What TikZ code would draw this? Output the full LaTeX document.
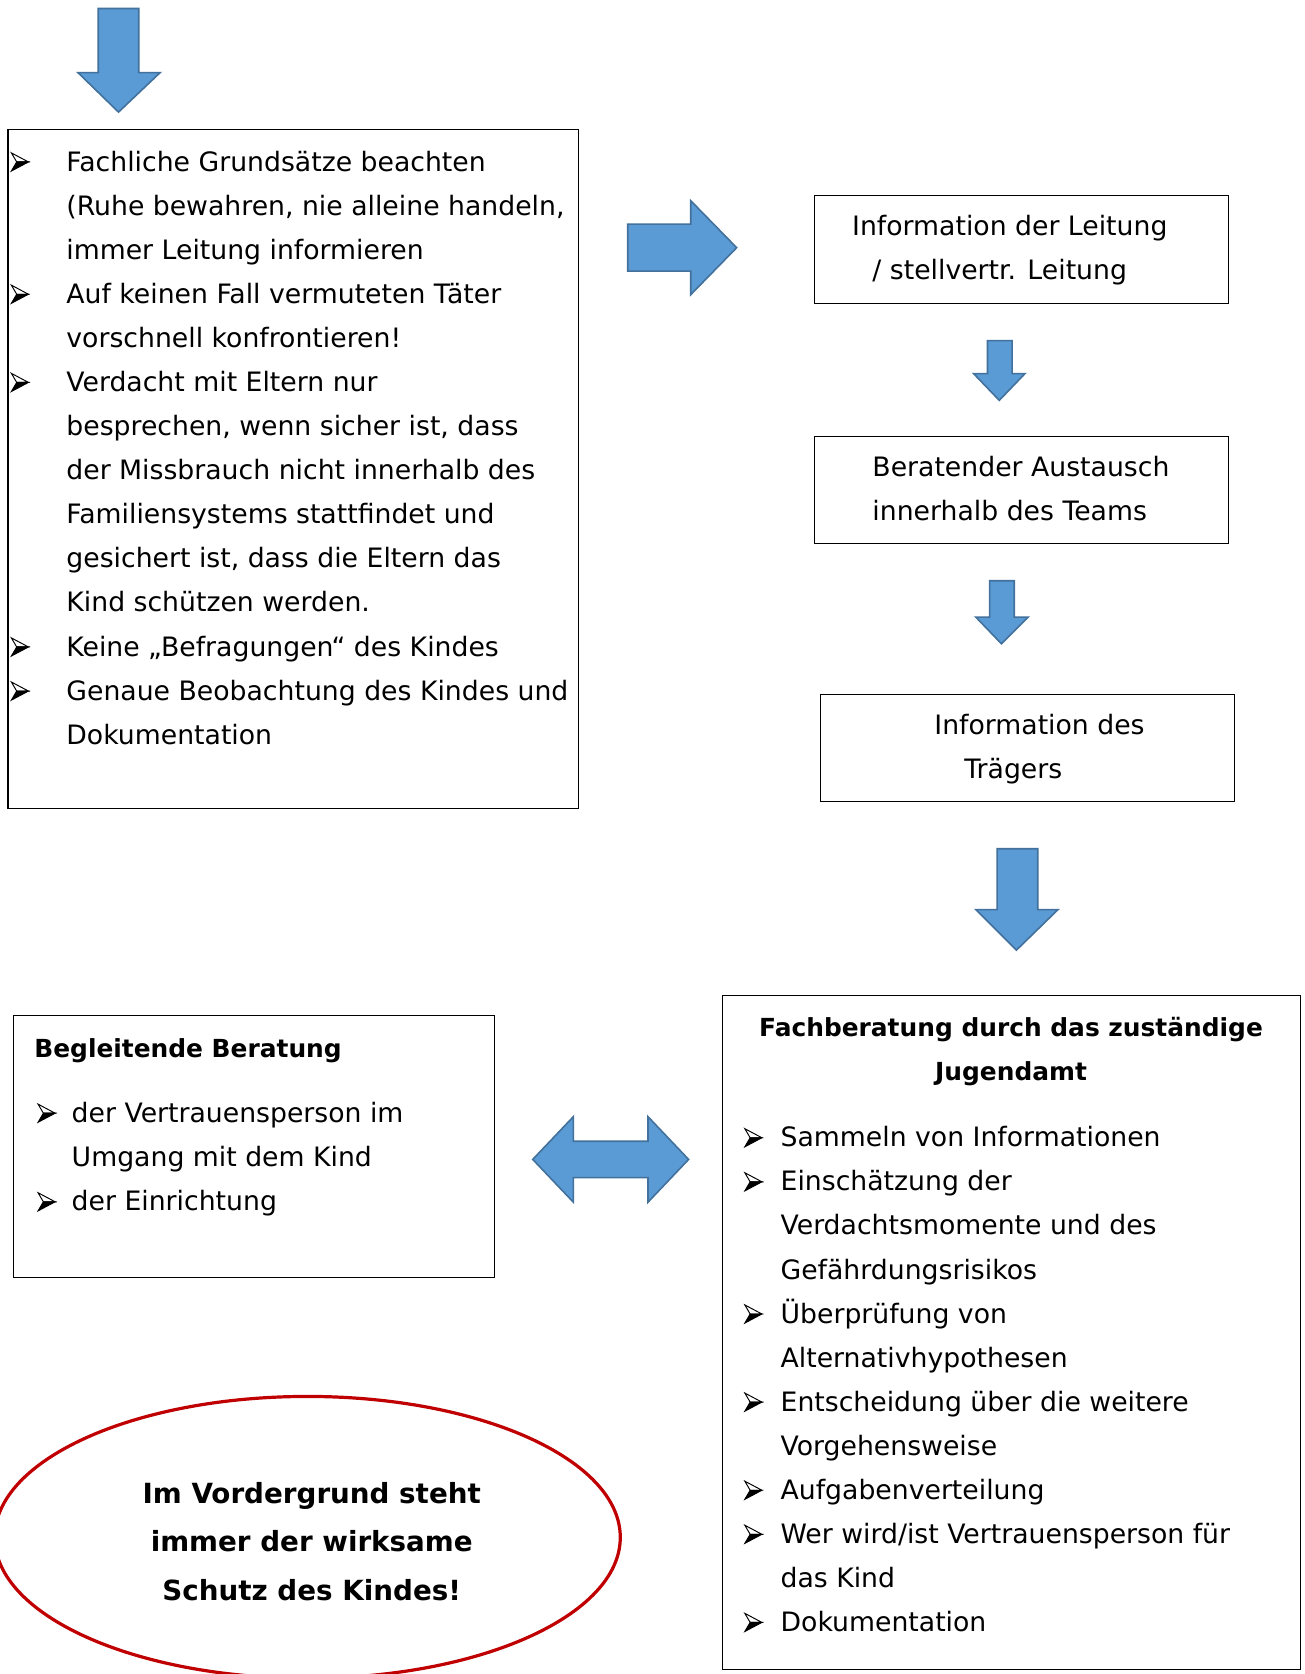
\documentclass[tikz,border=0pt]{standalone}
\usepackage{fontspec}
\setmainfont{DejaVu Sans}
\usetikzlibrary{shapes.geometric}
\definecolor{arrfill}{HTML}{5B9BD5}
\definecolor{arrline}{HTML}{41719C}
\definecolor{ellred}{HTML}{C00000}
\newcommand\bulglyph{\tikz[baseline=0pt, x=1pt, y=1pt]{%
  \filldraw[fill=white, draw=black, line width=0.9pt, line join=miter] (0,17) -- (16,8.5) -- (5,8.5) -- cycle;
  \filldraw[fill=black, draw=black, line width=0.9pt, line join=miter] (0,0) -- (16,8.5) -- (5,8.5) -- cycle;}}
\newcommand\bul[1]{\makebox[#1][l]{\bulglyph}}
\newcommand\fstrut{\rule{0pt}{25pt}}
\tikzset{
  boxst/.style={draw=black, line width=1pt, inner sep=0pt, anchor=north west},
  txt/.style={inner sep=0pt, anchor=north west, align=left, font=\fontsize{25}{41.3}\selectfont},
  btxt/.style={inner sep=0pt, font=\bfseries\fontsize{23.3}{41}\selectfont},
  barrow/.style={fill=arrfill, draw=arrline, line width=1.5pt, line join=miter},
}
\begin{document}
\begin{tikzpicture}[x=1pt,y=-1pt]
\useasboundingbox (0,0) rectangle (1222,1568);
\clip (0,0) rectangle (1222,1568);
\fill[white] (0,0) rectangle (1222,1568);

% arrows
\draw[barrow] (92,8) -- (130,8) -- (130,68) -- (150,68) -- (111,105) -- (73,68) -- (92,68) -- cycle;
\draw[barrow] (588,210) -- (647,210) -- (647,188) -- (690,232) -- (647,276) -- (647,254) -- (588,254) -- cycle;
\draw[barrow] (925,319) -- (948,319) -- (948,350) -- (960,350) -- (936,375) -- (912,350) -- (925,350) -- cycle;
\draw[barrow] (927,544) -- (950,544) -- (950,578) -- (963,578) -- (938,603) -- (914,578) -- (927,578) -- cycle;
\draw[barrow] (934,795) -- (972,795) -- (972,852) -- (991,852) -- (952,890) -- (914,852) -- (934,852) -- cycle;
\draw[barrow] (499,1086) -- (537,1046) -- (537,1069) -- (607,1069) -- (607,1046) -- (645,1086) -- (607,1126) -- (607,1103) -- (537,1103) -- (537,1126) -- cycle;

% boxes
\node[boxst, minimum width=534pt, minimum height=636pt] (b1) at (7,121) {};
\node[boxst, minimum width=388pt, minimum height=101pt] (bA) at (762,183) {};
\node[boxst, minimum width=388pt, minimum height=101pt] (bB) at (762,408) {};
\node[boxst, minimum width=388pt, minimum height=100pt] (bC) at (768,650) {};
\node[boxst, minimum width=542pt, minimum height=631pt] (bD) at (676,932) {};
\node[boxst, minimum width=451pt, minimum height=245pt] (bE) at (12,951) {};

% box 1 text
\node[txt] (t1) at (10,135) {\fstrut\bul{52pt}Fachliche Grundsätze beachten\\
\hspace*{52pt}(Ruhe bewahren, nie alleine handeln,\\
\hspace*{52pt}immer Leitung informieren\\
\bul{52pt}Auf keinen Fall vermuteten Täter\\
\hspace*{52pt}vorschnell konfrontieren!\\
\bul{52pt}Verdacht mit Eltern nur\\
\hspace*{52pt}besprechen, wenn sicher ist, dass\\
\hspace*{52pt}der Missbrauch nicht innerhalb des\\
\hspace*{52pt}Familiensystems stattfindet und\\
\hspace*{52pt}gesichert ist, dass die Eltern das\\
\hspace*{52pt}Kind schützen werden.\\
\bul{52pt}Keine „Befragungen“ des Kindes\\
\bul{52pt}Genaue Beobachtung des Kindes und\\
\hspace*{52pt}Dokumentation};

% right column texts
\node[txt, font=\fontsize{25}{42}\selectfont] (tA) at (798,195) {\fstrut Information der Leitung\\
\hspace*{19pt}/ stellvertr. Leitung};
\node[txt, font=\fontsize{25}{41}\selectfont] (tB) at (817,421) {\fstrut Beratender Austausch\\
innerhalb des Teams};
\node[txt, font=\fontsize{25}{41}\selectfont] (tC) at (875,663) {\fstrut Information des\\
\hspace*{28pt}Trägers};

% box D
\node[btxt, anchor=north, align=center] (tDh) at (947,946) {\fstrut Fachberatung durch das zuständige\\
Jugendamt};
\node[txt, font=\fontsize{25}{41.27}\selectfont] (tD) at (697,1049) {\fstrut\bul{34pt}Sammeln von Informationen\\
\bul{34pt}Einschätzung der\\
\hspace*{34pt}Verdachtsmomente und des\\
\hspace*{34pt}Gefährdungsrisikos\\
\bul{34pt}Überprüfung von\\
\hspace*{34pt}Alternativhypothesen\\
\bul{34pt}Entscheidung über die weitere\\
\hspace*{34pt}Vorgehensweise\\
\bul{34pt}Aufgabenverteilung\\
\bul{34pt}Wer wird/ist Vertrauensperson für\\
\hspace*{34pt}das Kind\\
\bul{34pt}Dokumentation};

% box E
\node[btxt, anchor=north west] (tEh) at (32,965) {\fstrut Begleitende Beratung};
\node[txt, font=\fontsize{25}{41.5}\selectfont] (tE) at (35,1026) {\fstrut\bul{32pt}der Vertrauensperson im\\
\hspace*{32pt}Umgang mit dem Kind\\
\bul{32pt}der Einrichtung};

% ellipse
\node[draw=ellred, line width=3pt, ellipse, minimum width=586pt, minimum height=264pt, inner sep=0pt] (ell) at (288,1440) {};
\node[inner sep=0pt, anchor=north, align=center, font=\bfseries\fontsize{26}{45.5}\selectfont] (tF) at (292,1383) {\fstrut Im Vordergrund steht\\
immer der wirksame\\
Schutz des Kindes!};
\end{tikzpicture}
\end{document}
